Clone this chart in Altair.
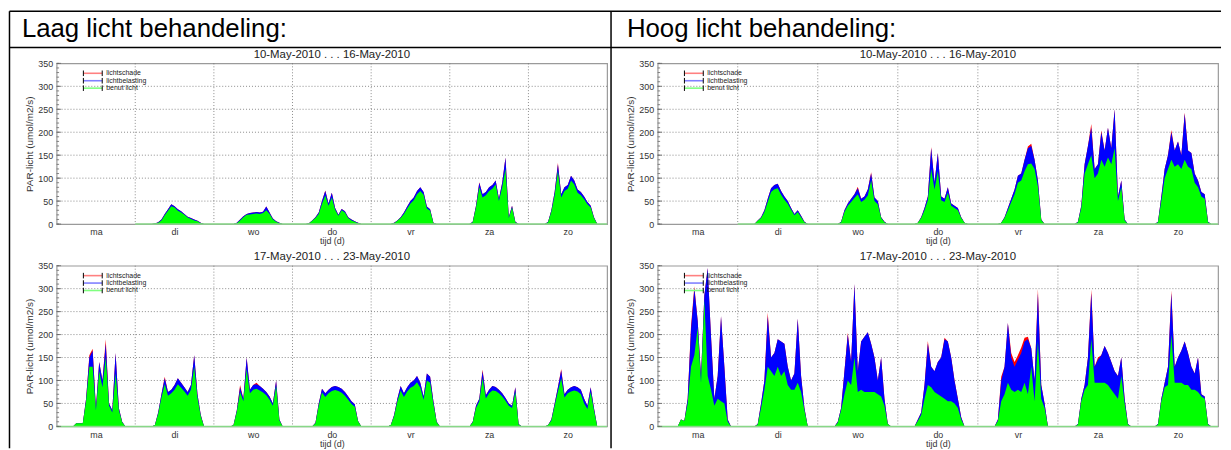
import altair as alt
import pandas as pd

FONT = "Liberation Sans"

DAYS = ["ma", "di", "wo", "do", "vr", "za", "zo"]
HOURS = list(range(4, 23))  # hourly readings 04:00 .. 22:00 for each day

SERIES = ["lichtschade", "lichtbelasting", "benut licht"]
SERIES_COLORS = ["#ff0000", "#0000ff", "#00ff00"]
LEGEND_LINE_COLORS = ["#ff8080", "#8080ff", "#80ff80"]

HEADERS = ["Laag licht behandeling:", "Hoog licht behandeling:"]
TITLES = ["10-May-2010 . . . 16-May-2010", "17-May-2010 . . . 23-May-2010"]
Y_TITLE = "PAR-licht (umol/m2/s)"
X_TITLE = "tijd (d)"
Y_TICKS = [0, 50, 100, 150, 200, 250, 300, 350]
Y_GRID = [50, 100, 150, 200, 250, 300]
Y_MINOR = list(range(0, 351, 10))

# ---- Laag licht, week 1: top of blue (lichtbelasting) and top of green (benut licht)
LAAG1_BELASTING = [
    None,
    [0, 0, 1, 4, 10, 22, 32, 43, 39, 32, 28, 22, 16, 13, 10, 7, 3, 0, 0],
    [0, 0, 0, 3, 10, 17, 22, 24, 25, 26, 25, 27, 38, 25, 12, 6, 3, 0, 0],
    [0, 2, 8, 15, 25, 50, 72, 45, 68, 35, 20, 33, 28, 15, 10, 6, 3, 0, 0],
    [0, 0, 0, 3, 8, 15, 25, 38, 50, 58, 72, 80, 70, 38, 32, 3, 0, 0, 0],
    [0, 0, 0, 5, 40, 90, 65, 70, 80, 85, 95, 55, 90, 145, 15, 40, 5, 0, 0],
    [0, 0, 5, 30, 70, 130, 65, 80, 85, 105, 95, 75, 70, 60, 48, 40, 15, 0, 0],
]
LAAG1_BENUT = [
    None,
    [0, 0, 1, 3, 8, 19, 29, 39, 36, 29, 25, 20, 14, 11, 8, 6, 2, 0, 0],
    [0, 0, 0, 2, 8, 15, 20, 21, 22, 23, 22, 24, 30, 22, 10, 5, 2, 0, 0],
    [0, 1, 7, 13, 22, 44, 62, 40, 58, 31, 18, 30, 25, 13, 8, 5, 2, 0, 0],
    [0, 0, 0, 2, 7, 13, 22, 34, 45, 52, 65, 72, 64, 34, 29, 2, 0, 0, 0],
    [0, 0, 0, 4, 36, 80, 58, 63, 72, 77, 86, 50, 80, 120, 13, 36, 4, 0, 0],
    [0, 0, 4, 27, 63, 115, 58, 72, 77, 95, 86, 68, 63, 54, 43, 36, 13, 0, 0],
]
LAAG1_SCHADE = {("zo", 9): 3, ("do", 10): 1, ("za", 9): 1}

# ---- Hoog licht, week 1
HOOG1_BELASTING = [
    None,
    [0, 0, 8, 15, 30, 55, 78, 85, 88, 72, 60, 50, 35, 22, 30, 18, 5, 0, 0],
    [0, 0, 0, 5, 30, 45, 55, 65, 78, 55, 60, 75, 110, 58, 50, 15, 5, 0, 0],
    [0, 0, 3, 15, 35, 60, 165, 90, 155, 60, 55, 80, 45, 40, 35, 15, 3, 0, 0],
    [0, 0, 0, 3, 15, 35, 55, 75, 105, 110, 140, 165, 170, 140, 95, 10, 0, 0, 0],
    [0, 0, 5, 40, 130, 170, 210, 120, 130, 200, 160, 210, 165, 250, 60, 95, 10, 0, 0],
    [0, 0, 5, 60, 120, 150, 200, 160, 180, 150, 240, 160, 155, 110, 95, 70, 65, 5, 0],
]
HOOG1_BENUT = [
    None,
    [0, 0, 7, 13, 26, 48, 70, 76, 78, 64, 53, 44, 31, 19, 26, 15, 4, 0, 0],
    [0, 0, 0, 4, 26, 40, 48, 57, 65, 48, 53, 62, 95, 50, 43, 13, 4, 0, 0],
    [0, 0, 3, 13, 30, 52, 120, 75, 115, 52, 48, 68, 40, 35, 30, 13, 3, 0, 0],
    [0, 0, 0, 3, 13, 30, 48, 65, 90, 95, 115, 130, 132, 120, 82, 9, 0, 0, 0],
    [0, 0, 4, 35, 110, 130, 150, 100, 110, 140, 125, 145, 130, 165, 50, 80, 8, 0, 0],
    [0, 0, 4, 50, 100, 120, 140, 125, 130, 120, 140, 125, 120, 90, 80, 60, 55, 4, 0],
]
HOOG1_SCHADE = {("wo", 12): 3, ("wo", 16): 3, ("do", 10): 3, ("vr", 15): 4, ("vr", 16): 5,
                ("za", 10): 8, ("za", 13): 4, ("zo", 10): 5, ("zo", 14): 3}

# ---- Laag licht, week 2
LAAG2_BELASTING = [
    [0, 0, 7, 7, 7, 60, 150, 165, 40, 140, 100, 180, 50, 35, 160, 40, 10, 0, 0],
    [0, 0, 3, 30, 70, 105, 75, 80, 90, 105, 95, 85, 75, 90, 155, 70, 25, 0, 0],
    [0, 0, 3, 35, 85, 60, 150, 80, 90, 92, 88, 82, 75, 65, 50, 100, 15, 0, 0],
    [0, 0, 0, 8, 50, 82, 72, 80, 86, 88, 86, 82, 75, 65, 55, 48, 12, 0, 0],
    [0, 0, 3, 25, 60, 88, 72, 85, 95, 100, 110, 95, 65, 115, 108, 55, 10, 0, 0],
    [0, 0, 0, 10, 45, 60, 120, 68, 80, 88, 86, 80, 72, 62, 50, 45, 85, 5, 0],
    [0, 0, 3, 15, 50, 85, 122, 70, 80, 85, 88, 85, 80, 60, 45, 85, 40, 0, 0],
]
LAAG2_BENUT = [
    [0, 0, 7, 7, 7, 55, 130, 130, 35, 120, 85, 150, 45, 30, 115, 35, 9, 0, 0],
    [0, 0, 3, 27, 63, 92, 67, 72, 80, 92, 84, 76, 67, 80, 130, 62, 22, 0, 0],
    [0, 0, 3, 32, 75, 55, 125, 72, 80, 82, 78, 74, 68, 58, 45, 88, 13, 0, 0],
    [0, 0, 0, 7, 45, 74, 64, 72, 77, 79, 77, 73, 67, 58, 49, 43, 11, 0, 0],
    [0, 0, 3, 22, 54, 78, 64, 76, 84, 88, 96, 84, 58, 100, 95, 49, 9, 0, 0],
    [0, 0, 0, 9, 40, 54, 105, 61, 72, 78, 77, 72, 65, 56, 45, 40, 75, 4, 0],
    [0, 0, 3, 13, 45, 76, 105, 63, 72, 76, 78, 76, 70, 50, 38, 75, 35, 0, 0],
]
LAAG2_SCHADE = {("ma", 15): 10, ("ma", 10): 5, ("ma", 11): 4, ("di", 9): 3, ("wo", 8): 5,
                ("wo", 13): 3, ("za", 10): 4, ("zo", 10): 3}

# ---- Hoog licht, week 2
HOOG2_BELASTING = [
    [0, 0, 0, 15, 12, 60, 210, 300, 230, 110, 285, 345, 195, 60, 110, 240, 130, 15, 0],
    [0, 0, 5, 50, 100, 240, 150, 160, 190, 185, 180, 130, 100, 115, 235, 110, 40, 0, 0],
    [0, 0, 10, 40, 120, 200, 140, 310, 120, 185, 195, 205, 180, 150, 100, 150, 60, 5, 0],
    [0, 0, 15, 30, 90, 180, 130, 120, 140, 150, 190, 185, 150, 100, 60, 20, 0, 0, 0],
    [0, 0, 15, 100, 130, 225, 150, 130, 145, 160, 185, 190, 170, 100, 290, 90, 50, 0, 0],
    [0, 0, 5, 60, 90, 150, 290, 130, 145, 155, 175, 160, 140, 120, 110, 150, 60, 5, 0],
    [0, 0, 5, 60, 95, 130, 290, 130, 150, 165, 185, 160, 130, 115, 150, 70, 65, 5, 0],
]
HOOG2_BENUT = [
    [0, 0, 0, 15, 12, 50, 130, 155, 215, 95, 275, 110, 80, 45, 60, 55, 50, 10, 0],
    [0, 0, 4, 40, 80, 130, 120, 110, 130, 110, 120, 90, 80, 80, 95, 75, 35, 0, 0],
    [0, 0, 8, 35, 70, 100, 90, 150, 75, 80, 75, 75, 75, 75, 70, 65, 45, 5, 0],
    [0, 0, 12, 25, 60, 90, 85, 75, 70, 65, 60, 55, 55, 50, 40, 15, 0, 0, 0],
    [0, 0, 12, 55, 70, 95, 80, 75, 80, 75, 95, 70, 130, 55, 185, 60, 40, 0, 0],
    [0, 0, 4, 55, 80, 90, 190, 95, 95, 95, 95, 90, 80, 70, 60, 110, 50, 4, 0],
    [0, 0, 4, 55, 85, 90, 200, 95, 95, 95, 90, 90, 80, 80, 75, 65, 60, 4, 0],
]
HOOG2_SCHADE = {("ma", 10): 8, ("ma", 11): 5, ("di", 9): 8, ("wo", 9): 4, ("do", 9): 6,
                ("do", 14): 3, ("vr", 7): 8, ("vr", 10): 10, ("vr", 11): 10, ("vr", 12): 10,
                ("vr", 13): 12, ("vr", 14): 8, ("vr", 15): 5, ("vr", 18): 10, ("za", 10): 8,
                ("za", 12): 5, ("zo", 10): 6}


def build(benut, belasting, schade):
    rows = []
    for d, day in enumerate(DAYS):
        g_day, t_day = benut[d], belasting[d]
        if g_day is None:
            continue
        rows.append(dict(x=d * 24, g=0, t=0, r=0))
        for h, g, t in zip(HOURS, g_day, t_day):
            rows.append(dict(x=d * 24 + h, g=g, t=t, r=t + schade.get((day, h), 0)))
        rows.append(dict(x=d * 24 + 24, g=0, t=0, r=0))
    return pd.DataFrame(rows)


MIDDAY = [12 + 24 * i for i in range(len(DAYS))]
DAY_BOUNDS = [24 * i for i in range(1, len(DAYS))]
LABEL_EXPR = "[" + ",".join("'%s'" % d for d in DAYS) + "][floor(datum.value / 24)]"

GRID_COLOR = "#6e6e6e"
TEXT_COLOR = "#333333"

legend_df = pd.DataFrame({"label": SERIES, "c": LEGEND_LINE_COLORS, "py": [10, 17.5, 25]})
legend_df["top"] = legend_df["py"] - 2.8
legend_df["bot"] = legend_df["py"] + 2.8

dummy = alt.Chart(pd.DataFrame({"k": [0]}))


def panel(df, title, width, height=162, extra=None):
    xs = alt.Scale(domain=[0, 168], nice=False, zero=False)
    ys = alt.Scale(domain=[0, 350], nice=False, zero=True)
    xax = alt.Axis(values=MIDDAY, labelExpr=LABEL_EXPR, grid=False, ticks=False, domain=False,
                   labelFont=FONT, labelFontSize=9, labelColor=TEXT_COLOR, labelPadding=4,
                   title=X_TITLE, titleFont=FONT, titleFontSize=9, titleFontWeight="normal",
                   titleColor=TEXT_COLOR, titlePadding=0)
    yax = alt.Axis(values=Y_TICKS, grid=False, ticks=False, domain=False, labelOverlap=False,
                   labelFont=FONT, labelFontSize=9, labelColor=TEXT_COLOR, labelPadding=4,
                   title=Y_TITLE, titleFont=FONT, titleFontSize=10, titleFontWeight="normal",
                   titleColor=TEXT_COLOR, titlePadding=3)

    def X(f):
        return alt.X(f, type="quantitative", scale=xs, axis=xax)

    def Y(f):
        return alt.Y(f, type="quantitative", scale=ys, axis=yax)

    hgrid = alt.Chart(pd.DataFrame({"v": Y_GRID})).mark_rule(
        color=GRID_COLOR, strokeDash=[1, 2], strokeWidth=0.8).encode(y=Y("v"))
    vgrid = alt.Chart(pd.DataFrame({"v": DAY_BOUNDS})).mark_rule(
        color=GRID_COLOR, strokeDash=[1, 2], strokeWidth=0.8).encode(x=X("v"))
    base = alt.Chart(df)
    red = base.mark_area(color=SERIES_COLORS[0], clip=True).encode(x=X("x"), y=Y("r"))
    blue = base.mark_area(color=SERIES_COLORS[1], clip=True).encode(x=X("x"), y=Y("t"))
    green = base.mark_area(color=SERIES_COLORS[2], clip=True).encode(x=X("x"), y=Y("g"))
    span = pd.DataFrame({"x0": [df["x"].min()], "x1": [df["x"].max()], "y0": [0]})
    baseline = alt.Chart(span).mark_rule(color="#88d888", strokeWidth=1.5).encode(
        x=X("x0"), x2="x1:Q", y=Y("y0"))
    minor = alt.Chart(pd.DataFrame({"v": Y_MINOR})).mark_rule(color="#666", strokeWidth=0.8).encode(
        y=Y("v"), x=alt.value(0), x2=alt.value(2.5))
    major = alt.Chart(pd.DataFrame({"v": Y_TICKS})).mark_rule(color="#666", strokeWidth=0.8).encode(
        y=Y("v"), x=alt.value(0), x2=alt.value(4.5))

    leg = alt.Chart(legend_df)
    leg_line = leg.mark_rule(strokeWidth=1.6).encode(
        x=alt.value(27), x2=alt.value(46),
        y=alt.Y("py:Q", scale=None), color=alt.Color("c:N", scale=None))
    leg_bar1 = leg.mark_rule(color="black", strokeWidth=1).encode(
        x=alt.value(27), y=alt.Y("top:Q", scale=None), y2="bot:Q")
    leg_bar2 = leg.mark_rule(color="black", strokeWidth=1).encode(
        x=alt.value(46), y=alt.Y("top:Q", scale=None), y2="bot:Q")
    leg_text = leg.mark_text(align="left", baseline="middle", font=FONT, fontSize=7,
                             color="#222").encode(
        x=alt.value(50), y=alt.Y("py:Q", scale=None), text="label:N")

    title_text = dummy.mark_text(align="center", baseline="middle", font=FONT, fontSize=11.5,
                                 color="#222").encode(
        x=alt.value(width / 2), y=alt.value(-8.5), text=alt.value(title))

    layers = [hgrid, vgrid, red, blue, green, baseline, minor, major,
              leg_line, leg_bar1, leg_bar2, leg_text, title_text]
    if extra:
        layers += extra
    return alt.layer(*layers).properties(width=width, height=height)


# table frame and column headers (drawn relative to the top-left panel)
frame_layers = [
    dummy.mark_rule(color="black", strokeWidth=1.5).encode(
        x=alt.value(-47.5), x2=alt.value(1174), y=alt.value(-52.5)),
    dummy.mark_rule(color="black", strokeWidth=1.5).encode(
        x=alt.value(-47.5), x2=alt.value(1174), y=alt.value(-16)),
    dummy.mark_rule(color="black", strokeWidth=1.5).encode(
        x=alt.value(-47.5), y=alt.value(-52.5), y2=alt.value(388)),
    dummy.mark_rule(color="black", strokeWidth=1.5).encode(
        x=alt.value(559), y=alt.value(-52.5), y2=alt.value(388)),
    dummy.mark_text(align="left", baseline="alphabetic", font=FONT, fontSize=26,
                    color="black").encode(x=alt.value(-35), y=alt.value(-27),
                                          text=alt.value(HEADERS[0])),
    dummy.mark_text(align="left", baseline="alphabetic", font=FONT, fontSize=26,
                    color="black").encode(x=alt.value(575), y=alt.value(-27),
                                          text=alt.value(HEADERS[1])),
]

tl = panel(build(LAAG1_BENUT, LAAG1_BELASTING, LAAG1_SCHADE), TITLES[0], 555, extra=frame_layers)
bl = panel(build(LAAG2_BENUT, LAAG2_BELASTING, LAAG2_SCHADE), TITLES[1], 555)
tr = panel(build(HOOG1_BENUT, HOOG1_BELASTING, HOOG1_SCHADE), TITLES[0], 565)
br = panel(build(HOOG2_BENUT, HOOG2_BELASTING, HOOG2_SCHADE), TITLES[1], 565)

chart = alt.concat(tl, tr, bl, br, columns=2, spacing={"row": 42, "column": 51},
                   bounds="flush", align="each").properties(
    padding=0, background="white"
).configure_view(stroke="#9a9a9a", strokeWidth=1.2)

chart.save("out.html", embed_options={"renderer": "svg", "actions": False})
